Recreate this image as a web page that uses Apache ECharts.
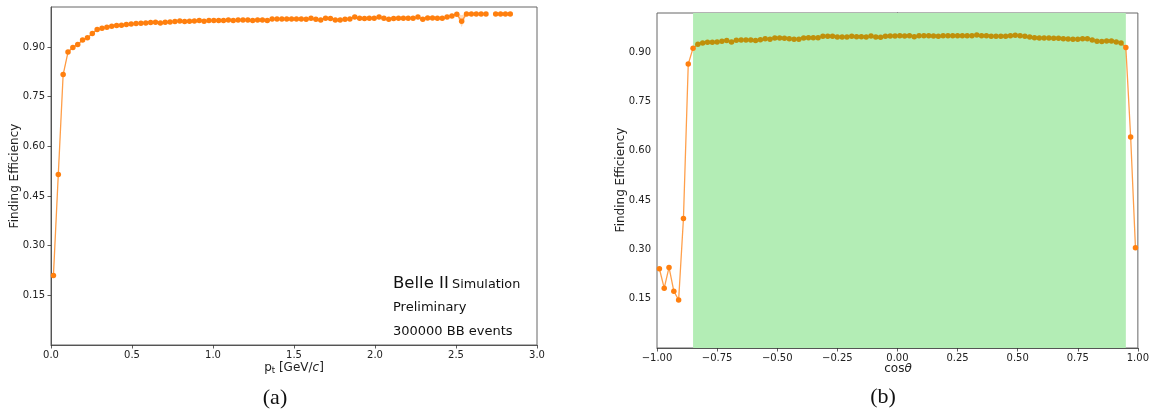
<!DOCTYPE html>
<html>
<head>
<meta charset="utf-8">
<script src="https://cdn.jsdelivr.net/npm/echarts@6/dist/echarts.min.js"></script>
<style>
html,body{margin:0;padding:0;background:#fff;}
#c{width:1152px;height:414px;}
</style>
</head>
<body>
<div id="c"></div>
<script>
// ---- Data: (a) efficiency vs transverse momentum ----
const ptBins = [0.015,0.045,0.075,0.105,0.135,0.165,0.195,0.225,0.255,0.285,
  0.315,0.345,0.375,0.405,0.435,0.465,0.495,0.525,0.555,0.585,
  0.615,0.645,0.675,0.705,0.735,0.765,0.795,0.825,0.855,0.885,
  0.915,0.945,0.975,1.005,1.035,1.065,1.095,1.125,1.155,1.185,
  1.215,1.245,1.275,1.305,1.335,1.365,1.395,1.425,1.455,1.485,
  1.515,1.545,1.575,1.605,1.635,1.665,1.695,1.725,1.755,1.785,
  1.815,1.845,1.875,1.905,1.935,1.965,1.995,2.025,2.055,2.085,
  2.115,2.145,2.175,2.205,2.235,2.265,2.295,2.325,2.355,2.385,
  2.415,2.445,2.475,2.505,2.535,2.565,2.595,2.625,2.655,2.685,
  2.715,2.745,2.775,2.805,2.835];
const ptEff = [0.210,0.515,0.817,0.885,0.899,0.908,0.921,0.928,0.941,0.953,
  0.957,0.960,0.963,0.965,0.966,0.968,0.970,0.971,0.972,0.973,
  0.974,0.975,0.973,0.975,0.976,0.977,0.979,0.977,0.978,0.979,
  0.980,0.978,0.980,0.980,0.980,0.980,0.982,0.980,0.982,0.982,
  0.982,0.980,0.982,0.982,0.980,0.985,0.985,0.985,0.985,0.985,
  0.985,0.985,0.984,0.987,0.984,0.982,0.987,0.986,0.982,0.982,
  0.984,0.985,0.991,0.987,0.986,0.987,0.987,0.991,0.987,0.984,
  0.986,0.987,0.987,0.987,0.987,0.991,0.984,0.988,0.988,0.987,
  0.987,0.991,0.994,0.999,0.978,1.000,1.000,1.000,1.000,1.000,
  null,1.000,1.000,1.000,1.000];
const ptErr = [0.006,0.006,0.004,0.003,0.003,0.002,0.002,0.002,0.002,0.002,
  0.002,0.002,0.002,0.002,0.002,0.002,0.002,0.002,0.002,0.002,
  0.002,0.002,0.002,0.002,0.002,0.002,0.002,0.002,0.002,0.002,
  0.002,0.002,0.002,0.002,0.002,0.002,0.002,0.002,0.002,0.002,
  0.002,0.002,0.002,0.002,0.002,0.002,0.002,0.002,0.002,0.002,
  0.002,0.002,0.002,0.002,0.002,0.002,0.002,0.002,0.002,0.002,
  0.002,0.002,0.002,0.002,0.002,0.002,0.002,0.002,0.002,0.002,
  0.002,0.002,0.002,0.002,0.002,0.002,0.002,0.002,0.002,0.002,
  0.002,0.002,0.003,0.002,0.018,0.001,0.001,0.001,0.001,0.001,
  null,0.001,0.001,0.001,0.001];

// ---- Data: (b) efficiency vs cos(theta) ----
const cosBins = [-0.99,-0.97,-0.95,-0.93,-0.91,-0.89,-0.87,-0.85,-0.83,-0.81,
  -0.79,-0.77,-0.75,-0.73,-0.71,-0.69,-0.67,-0.65,-0.63,-0.61,
  -0.59,-0.57,-0.55,-0.53,-0.51,-0.49,-0.47,-0.45,-0.43,-0.41,
  -0.39,-0.37,-0.35,-0.33,-0.31,-0.29,-0.27,-0.25,-0.23,-0.21,
  -0.19,-0.17,-0.15,-0.13,-0.11,-0.09,-0.07,-0.05,-0.03,-0.01,
  0.01,0.03,0.05,0.07,0.09,0.11,0.13,0.15,0.17,0.19,
  0.21,0.23,0.25,0.27,0.29,0.31,0.33,0.35,0.37,0.39,
  0.41,0.43,0.45,0.47,0.49,0.51,0.53,0.55,0.57,0.59,
  0.61,0.63,0.65,0.67,0.69,0.71,0.73,0.75,0.77,0.79,
  0.81,0.83,0.85,0.87,0.89,0.91,0.93,0.95,0.97,0.99];
const cosEff = [0.241,0.182,0.245,0.173,0.146,0.394,0.864,0.912,0.924,0.928,
  0.930,0.930,0.931,0.933,0.935,0.931,0.936,0.937,0.937,0.937,
  0.935,0.938,0.941,0.939,0.943,0.943,0.942,0.941,0.939,0.939,
  0.943,0.944,0.944,0.944,0.948,0.948,0.948,0.946,0.946,0.946,
  0.948,0.947,0.947,0.946,0.949,0.946,0.945,0.948,0.949,0.949,
  0.950,0.949,0.950,0.947,0.950,0.950,0.950,0.949,0.948,0.950,
  0.950,0.950,0.950,0.950,0.950,0.950,0.952,0.950,0.950,0.948,
  0.948,0.948,0.948,0.950,0.951,0.950,0.948,0.946,0.944,0.943,
  0.943,0.943,0.942,0.942,0.941,0.940,0.939,0.939,0.941,0.941,
  0.937,0.933,0.932,0.934,0.934,0.931,0.928,0.914,0.642,0.305];
const acceptance = [-0.85, 0.95];

// ---- Tick labels ----
const yTicks = [0.15,0.30,0.45,0.60,0.75,0.90];
const ptTicks = [0.0,0.5,1.0,1.5,2.0,2.5,3.0];
const cosTicks = [-1.00,-0.75,-0.50,-0.25,0.00,0.25,0.50,0.75,1.00];

const ORANGE = '#ff7f0e';
const OLIVE = '#bf900b';
const BAND = '#b3edb5';
const FONT = 'DejaVu Sans';

const ptLine = ptBins.map((x,i)=>[x, ptEff[i]]);
const cosLine = cosBins.map((x,i)=>[x, cosEff[i]]);

function fmtNum(v, d){
  const s = Math.abs(v).toFixed(d);
  return (v < -1e-9 ? '\u2212' : '') + s;
}

function yAxisCfg(idx, max){
  return {
    type:'value', gridIndex:idx, min:0, max:max,
    axisLine:{show:true, lineStyle:{color:'#555', width:1}},
    axisTick:{show:true, length:3.5, customValues:yTicks, lineStyle:{color:'#333', width:0.8}},
    axisLabel:{customValues:yTicks, formatter:v=>fmtNum(v,2), color:'#222', fontFamily:FONT, fontSize:10, margin:6},
    splitLine:{show:false}
  };
}
function xAxisCfg(idx, min, max, ticks, dec){
  return {
    type:'value', gridIndex:idx, min:min, max:max,
    axisLine:{show:true, onZero:false, lineStyle:{color:'#555', width:1}},
    axisTick:{show:true, length:3.5, customValues:ticks, lineStyle:{color:'#333', width:0.8}},
    axisLabel:{customValues:ticks, formatter:v=>fmtNum(v,dec), color:'#222', fontFamily:FONT, fontSize:10, margin:5},
    splitLine:{show:false}
  };
}

const chart = echarts.init(document.getElementById('c'), null, {renderer:'canvas', width:1152, height:414});

function textEl(x, y, text, size, opts){
  return Object.assign({
    type:'text', x:x, y:y, silent:true,
    style:Object.assign({text:text, fill:'#111', font:size+'px "'+FONT+'"', textAlign:'left', textVerticalAlign:'middle'}, (opts&&opts.style)||{})
  }, (opts&&opts.el)||{});
}

// uncertainty band of panel (a): polygons between eff-err and eff+err, broken at empty bins
function renderBand(params, api){
  const children = [];
  let seg = [];
  const flush = ()=>{
    if (seg.length > 1){
      const up = seg.map(i=>api.coord([ptBins[i], ptEff[i]+ptErr[i]]));
      const lo = seg.slice().reverse().map(i=>api.coord([ptBins[i], ptEff[i]-ptErr[i]]));
      children.push({type:'polygon', shape:{points:up.concat(lo)}, style:{fill:'rgba(255,127,14,0.28)'}});
    }
    seg = [];
  };
  ptBins.forEach((x,i)=>{ if (ptEff[i]==null) flush(); else seg.push(i); });
  flush();
  return {type:'group', children:children};
}

const option = {
  animation:false,
  backgroundColor:'#fff',
  grid:[
    {left:51, top:7, width:486, height:338, show:true, borderColor:'#666', borderWidth:1, backgroundColor:'transparent'},
    {left:657, top:13, width:481, height:335, show:true, borderColor:'#666', borderWidth:1, backgroundColor:'transparent'}
  ],
  xAxis:[ xAxisCfg(0, 0, 3, ptTicks, 1), xAxisCfg(1, -1, 1, cosTicks, 2) ],
  yAxis:[ yAxisCfg(0, 1.021), yAxisCfg(1, 1.019) ],
  visualMap:[{
    type:'piecewise', show:false, dimension:0, seriesIndex:2,
    pieces:[
      {lt:-0.84, color:ORANGE},
      {gte:-0.84, lte:0.94, color:OLIVE},
      {gt:0.94, color:ORANGE}
    ]
  }],
  series:[
    {type:'custom', xAxisIndex:0, yAxisIndex:0, data:[[0,0]], silent:true, clip:true, z:1, renderItem:renderBand},
    {type:'line', xAxisIndex:0, yAxisIndex:0, data:ptLine, symbol:'circle', symbolSize:5.5, connectNulls:false,
     lineStyle:{color:ORANGE, width:1.3, opacity:0.75}, itemStyle:{color:ORANGE}, z:3},
    {type:'line', xAxisIndex:1, yAxisIndex:1, data:cosLine, symbol:'circle', symbolSize:5.5,
     lineStyle:{width:1.3, opacity:0.75}, z:3,
     markArea:{silent:true, itemStyle:{color:BAND, opacity:1},
       data:[[{xAxis:acceptance[0]},{xAxis:acceptance[1]}]]}}
  ],
  graphic:[
    textEl(15, 176, 'Finding Efficiency', 12, {el:{rotation:Math.PI/2}, style:{textAlign:'center', fill:'#222'}}),
    textEl(621, 180, 'Finding Efficiency', 12, {el:{rotation:Math.PI/2}, style:{textAlign:'center', fill:'#222'}}),
    {type:'text', x:294, y:368, silent:true, style:{
      text:'{n|p}{sub|t}{n| [GeV/}{it|c}{n|]}', textAlign:'center', textVerticalAlign:'middle',
      rich:{n:{fontFamily:FONT, fontSize:12, fill:'#222'}, sub:{fontFamily:FONT, fontSize:8.5, fill:'#222', padding:[5,0,0,0]},
            it:{fontFamily:FONT, fontStyle:'italic', fontSize:12, fill:'#222'}}}},
    {type:'text', x:898, y:369, silent:true, style:{
      text:'{n|cos}{it|\u03b8}', textAlign:'center', textVerticalAlign:'middle',
      rich:{n:{fontFamily:FONT, fontSize:12, fill:'#222'}, it:{fontFamily:FONT, fontStyle:'italic', fontSize:12, fill:'#222'}}}},
    {type:'text', x:393, y:284, silent:true, style:{
      text:'{b|Belle II} {s|Simulation}', textAlign:'left', textVerticalAlign:'middle',
      rich:{b:{fontFamily:FONT, fontSize:16.5, fill:'#111'}, s:{fontFamily:FONT, fontSize:12.8, fill:'#111', padding:[2,0,0,0]}}}},
    textEl(393, 308, 'Preliminary', 13),
    textEl(393, 332, '300000 BB events', 13),
    {type:'text', x:987, y:289, silent:true, style:{
      text:'{b|Belle II} {s|Simulation}', textAlign:'left', textVerticalAlign:'middle',
      rich:{b:{fontFamily:FONT, fontSize:16.5, fill:'#111'}, s:{fontFamily:FONT, fontSize:12.8, fill:'#111', padding:[2,0,0,0]}}}},
    textEl(987, 312, 'Preliminary', 13),
    textEl(987, 336, '300000 BB events', 13),
    {type:'text', x:275, y:398, silent:true, style:{text:'(a)', font:'22px "Liberation Serif"', fill:'#111', textAlign:'center', textVerticalAlign:'middle'}},
    {type:'text', x:883, y:397, silent:true, style:{text:'(b)', font:'22px "Liberation Serif"', fill:'#111', textAlign:'center', textVerticalAlign:'middle'}}
  ]
};
chart.setOption(option);
</script>
</body>
</html>
